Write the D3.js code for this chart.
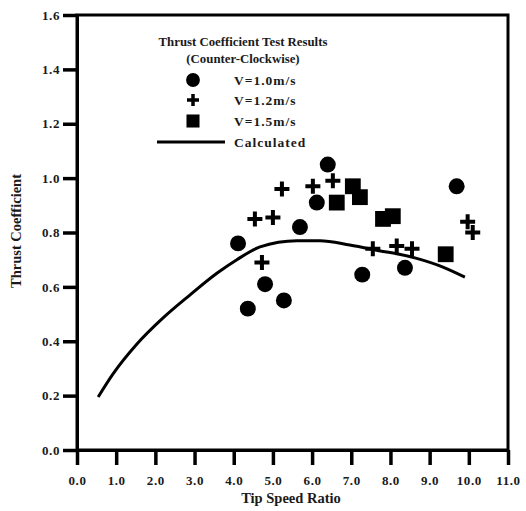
<!DOCTYPE html>
<html>
<head>
<meta charset="utf-8">
<script src="https://cdn.jsdelivr.net/npm/d3@7"></script>
<style>
  body { margin: 0; background: #fff; }
  text { font-family: "Liberation Serif", "DejaVu Serif", serif; fill: #1a1a1a; }
</style>
</head>
<body>
<svg id="chart" width="526" height="511"></svg>
<script>
// values
const circleX = [4.11, 4.36, 4.80, 5.28, 5.69, 6.12, 6.40, 7.28, 8.37, 9.69]
const circleY = [0.76, 0.52, 0.61, 0.55, 0.82, 0.91, 1.05, 0.645, 0.67, 0.97]

const plusX = [4.54, 5.00, 5.23, 4.72, 6.02, 6.53, 7.55, 8.16, 8.55, 9.97, 10.10]
const plusY = [0.85, 0.855, 0.96, 0.69, 0.97, 0.99, 0.74, 0.75, 0.74, 0.84, 0.80]

const squareX = [6.63, 7.04, 7.22, 7.81, 8.06, 9.41]
const squareY = [0.91, 0.97, 0.93, 0.85, 0.86, 0.72]

const calcX = [0.54, 0.92, 1.53, 2.19, 2.88, 3.57, 4.08, 4.67, 5.61, 6.2, 6.96, 7.65, 8.67, 9.34, 9.9]
const calcY = [0.195, 0.28, 0.39, 0.485, 0.57, 0.65, 0.70, 0.747, 0.77, 0.77, 0.754, 0.735, 0.705, 0.673, 0.636]

const xTicks = [0, 1, 2, 3, 4, 5, 6, 7, 8, 9, 10, 11]
const yTicks = [0, 0.2, 0.4, 0.6, 0.8, 1.0, 1.2, 1.4, 1.6]

const legendTitle = ['Thrust Coefficient Test Results', '(Counter-Clockwise)']
const legendLabels = ['V=1.0m/s', 'V=1.2m/s', 'V=1.5m/s', 'Calculated']

const zip = (xs, ys) => xs.map((x, i) => [x, ys[i]])

const svg = d3.select('#chart')
const margin = { top: 15, right: 18, bottom: 61, left: 77 }
const width = 526 - margin.left - margin.right
const height = 511 - margin.top - margin.bottom

const x = d3.scaleLinear().domain([0, 11]).range([0, width])
const y = d3.scaleLinear().domain([0, 1.6]).range([height, 0])

const g = svg.append('g')
  .attr('transform', `translate(${margin.left},${margin.top})`)

// frame
g.append('rect')
  .attr('width', width)
  .attr('height', height)
  .attr('fill', 'none')
  .attr('stroke', '#000')
  .attr('stroke-width', 3)

const xAxis = g.append('g')
  .attr('transform', `translate(0,${height})`)
  .call(d3.axisBottom(x).tickValues(xTicks).tickSize(15).tickSizeOuter(0).tickFormat(d3.format('.1f')))

const yAxis = g.append('g')
  .call(d3.axisLeft(y).tickValues(yTicks).tickSize(14).tickSizeOuter(0).tickFormat(d3.format('.1f')))

;[xAxis, yAxis].forEach(ax => {
  ax.select('.domain').attr('stroke-width', 3)
  ax.selectAll('.tick line').attr('stroke-width', 3.5)
  ax.selectAll('.tick text')
    .style('font-family', '"Liberation Serif", serif')
    .style('font-size', '13px')
    .style('font-weight', 'bold')
    .style('letter-spacing', '0.6px')
    .attr('fill', '#3a3a4a')
})
xAxis.selectAll('.tick text').attr('y', 26).attr('dy', '0.71em')
yAxis.selectAll('.tick text').attr('x', -17)

svg.append('text')
  .attr('x', 291)
  .attr('y', 503)
  .attr('text-anchor', 'middle')
  .style('font-size', '14.5px')
  .style('font-weight', 'bold')
  .text('Tip Speed Ratio')

svg.append('text')
  .attr('transform', 'translate(21,231) rotate(-90)')
  .attr('text-anchor', 'middle')
  .style('font-size', '14.5px')
  .style('font-weight', 'bold')
  .text('Thrust Coefficient')

// calculated curve
g.append('path')
  .datum(zip(calcX, calcY))
  .attr('fill', 'none')
  .attr('stroke', '#000')
  .attr('stroke-width', 3)
  .attr('d', d3.line().x(d => x(d[0])).y(d => y(d[1])).curve(d3.curveMonotoneX))

const circle = d3.symbol().type(d3.symbolCircle).size(200)
const square = d3.symbol().type(d3.symbolSquare).size(250)

g.selectAll('.circle-pt')
  .data(zip(circleX, circleY))
  .join('path')
  .attr('class', 'circle-pt')
  .attr('transform', d => `translate(${x(d[0])},${y(d[1])})`)
  .attr('d', circle)
  .attr('fill', '#000')

g.selectAll('.square-pt')
  .data(zip(squareX, squareY))
  .join('path')
  .attr('class', 'square-pt')
  .attr('transform', d => `translate(${x(d[0])},${y(d[1])})`)
  .attr('d', square)
  .attr('fill', '#000')

const plusPath = 'M-7.5,0H7.5M0,-7.5V7.5'
g.selectAll('.plus-pt')
  .data(zip(plusX, plusY))
  .join('path')
  .attr('class', 'plus-pt')
  .attr('transform', d => `translate(${x(d[0])},${y(d[1])})`)
  .attr('d', plusPath)
  .attr('stroke', '#000')
  .attr('stroke-width', 4)

// legend
const legend = svg.append('g')
legend.selectAll('.ltitle')
  .data(legendTitle)
  .join('text')
  .attr('class', 'ltitle')
  .attr('x', 243)
  .attr('y', (d, i) => 46 + i * 17)
  .attr('text-anchor', 'middle')
  .style('font-size', '12.8px')
  .style('font-weight', 'bold')
  .text(d => d)

const rowY = [80, 100, 121, 142]
legend.selectAll('.llabel')
  .data(legendLabels)
  .join('text')
  .attr('class', 'llabel')
  .attr('x', 234)
  .attr('y', (d, i) => rowY[i] + 4.5)
  .style('font-size', '13.5px')
  .style('font-weight', 'bold')
  .style('letter-spacing', '1px')
  .text(d => d)

legend.append('path')
  .attr('transform', `translate(193,${rowY[0]})`)
  .attr('d', d3.symbol().type(d3.symbolCircle).size(150))
legend.append('path')
  .attr('transform', `translate(193,${rowY[1]})`)
  .attr('d', 'M-6,0H6M0,-6V6')
  .attr('stroke', '#000')
  .attr('stroke-width', 3.5)
legend.append('path')
  .attr('transform', `translate(193,${rowY[2]})`)
  .attr('d', d3.symbol().type(d3.symbolSquare).size(170))
legend.append('line')
  .attr('x1', 157).attr('x2', 225)
  .attr('y1', rowY[3]).attr('y2', rowY[3])
  .attr('stroke', '#000')
  .attr('stroke-width', 3)
</script>
</body>
</html>
